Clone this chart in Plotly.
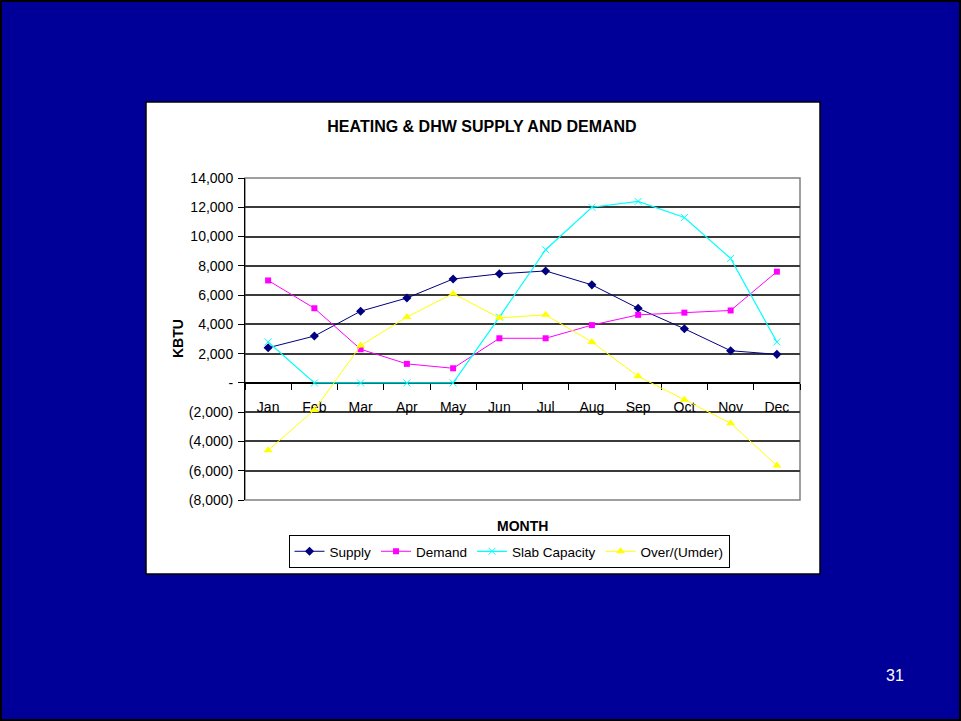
import plotly.graph_objects as go

months = ["Jan", "Feb", "Mar", "Apr", "May", "Jun", "Jul", "Aug", "Sep", "Oct", "Nov", "Dec"]
supply = [2400, 3200, 4900, 5800, 7100, 7450, 7650, 6700, 5100, 3700, 2200, 1950]
demand = [7000, 5100, 2300, 1300, 1000, 3050, 3050, 3950, 4650, 4800, 4950, 7600]
slab = [2800, 0, 0, 0, 0, 4500, 9100, 12000, 12400, 11300, 8500, 2800]
over_under = [-4600, -1850, 2550, 4500, 6100, 4450, 4650, 2800, 450, -1150, -2750, -5650]

ytick_vals = [14000, 12000, 10000, 8000, 6000, 4000, 2000, 0, -2000, -4000, -6000, -8000]
ytick_text = ["14,000", "12,000", "10,000", "8,000", "6,000", "4,000", "2,000", "-",
              "(2,000)", "(4,000)", "(6,000)", "(8,000)"]

FONT = "Liberation Sans, Arial, sans-serif"

fig = go.Figure()
fig.add_trace(go.Scatter(x=months, y=supply, name="Supply", mode="lines+markers",
                         line=dict(color="#000080", width=1),
                         marker=dict(symbol="diamond", size=7, color="#000080")))
fig.add_trace(go.Scatter(x=months, y=demand, name="Demand", mode="lines+markers",
                         line=dict(color="#FF00FF", width=1),
                         marker=dict(symbol="square", size=6, color="#FF00FF")))
fig.add_trace(go.Scatter(x=months, y=slab, name="Slab Capacity", mode="lines+markers",
                         line=dict(color="#00FFFF", width=1.2),
                         marker=dict(symbol="x-thin", size=7, color="#00FFFF",
                                     line=dict(color="#00FFFF", width=1))))
fig.add_trace(go.Scatter(x=months, y=over_under, name="Over/(Umder)", mode="lines+markers",
                         line=dict(color="#FFFF00", width=1),
                         marker=dict(symbol="triangle-up", size=8, color="#FFFF00")))

# plot area 245..800 x 178..500 px
L, R, T, B = 245, 800, 178, 500
W, H = 961, 721
pw, ph = R - L, B - T

def px(x):
    return (x - L) / pw

def py(y):
    return (B - y) / ph

zero_pos = 8000 / 22000

fig.update_layout(
    width=W, height=H,
    margin=dict(l=L, r=W - R, t=T, b=H - B, pad=0),
    paper_bgcolor="#000099",
    plot_bgcolor="#C0C0C0",
    font=dict(family=FONT, size=12, color="black"),
    showlegend=True,
    title=dict(text="<b>HEATING & DHW SUPPLY AND DEMAND</b>", x=482 / W, xanchor="center",
               y=1 - 126 / H, yanchor="middle", font=dict(family=FONT, size=16, color="black")),
    xaxis=dict(type="category", anchor="free", position=zero_pos,
               showline=True, linecolor="#000000", linewidth=1.5, layer="below traces",
               ticks="outside", ticklen=6, tickcolor="black", tickson="boundaries",
               ticklabelstandoff=12,
               showgrid=False, tickfont=dict(size=14, color="black"),
               range=[-0.5, 11.5], fixedrange=True),
    yaxis=dict(range=[-8000, 14000], tickvals=ytick_vals, ticktext=ytick_text,
               showline=True, linecolor="black", linewidth=1, layer="below traces",
               ticks="outside", ticklen=6, tickcolor="black", ticklabelstandoff=2,
               showgrid=True, gridcolor="#3a3a3a", gridwidth=1.5,
               zeroline=False, tickfont=dict(size=14, color="black")),
    legend=dict(orientation="h", x=px(509), xanchor="center", y=py(535), yanchor="top",
                bgcolor="white", bordercolor="black", borderwidth=1,
                font=dict(family=FONT, size=13.5, color="black"),
                itemwidth=30, tracegroupgap=0),
)

shapes = [
    # white chart box
    dict(type="rect", xref="paper", yref="paper", x0=px(146), x1=px(820), y0=py(574), y1=py(102),
         fillcolor="white", line=dict(color="black", width=1.5), layer="below"),
    # plot area border
    dict(type="rect", xref="paper", yref="paper", x0=0, x1=1, y0=0, y1=1,
         line=dict(color="#808080", width=1.5), layer="below"),
    # outer slide border
    dict(type="rect", xref="paper", yref="paper", x0=px(1), x1=px(960), y0=py(720), y1=py(1),
         line=dict(color="black", width=2), layer="below"),
]
fig.update_layout(shapes=shapes)

fig.add_annotation(text="<b>KBTU</b>", xref="paper", yref="paper", x=px(178), y=py(339),
                   xanchor="center", yanchor="middle",
                   showarrow=False, textangle=-90, font=dict(family=FONT, size=14, color="black"))
fig.add_annotation(text="<b>MONTH</b>", xref="paper", yref="paper", x=px(522), y=py(526),
                   xanchor="center", yanchor="middle",
                   showarrow=False, font=dict(family=FONT, size=14, color="black"))
fig.add_annotation(text="31", xref="paper", yref="paper", x=px(895), y=py(675),
                   xanchor="center", yanchor="middle",
                   showarrow=False, font=dict(family=FONT, size=16, color="white"))

fig.write_html("out.html", config={"displayModeBar": False},
               post_script="document.body.style.margin='0';document.body.style.overflow='hidden';")
